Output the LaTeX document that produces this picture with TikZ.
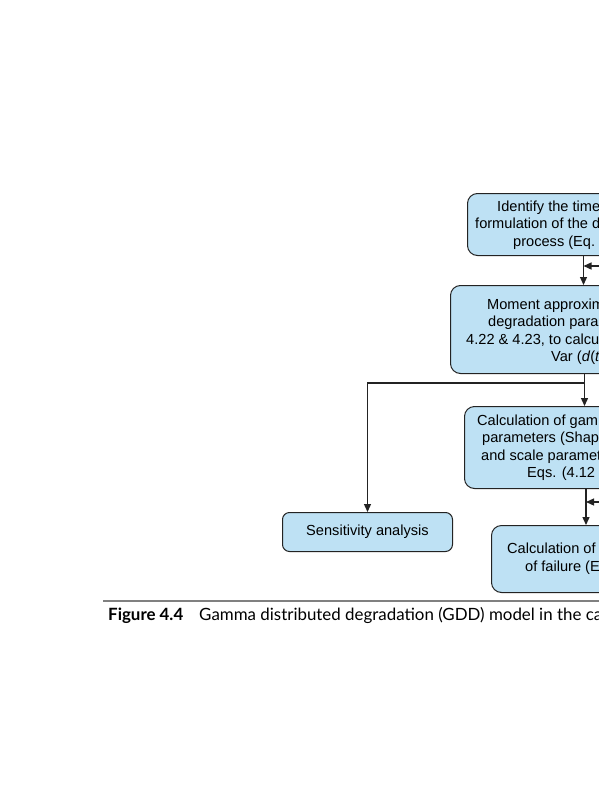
\documentclass[tikz,border=0pt]{standalone}
\usepackage{fontspec}
\setmainfont{Liberation Sans}
\newfontfamily\capfont{Lato}
\usetikzlibrary{arrows.meta}
\definecolor{boxfill}{RGB}{190,225,244}
\definecolor{edgecol}{RGB}{35,35,35}
\definecolor{rulegray}{RGB}{128,128,128}
\begin{document}
\begin{tikzpicture}[x=1pt,y=-1pt,
 box/.style={draw=edgecol, line width=1pt, fill=boxfill, rounded corners=10pt, anchor=north west, inner sep=0},
 txt/.style={anchor=base west, inner sep=0, font=\fontsize{14.6}{17.5}\selectfont, text=black},
 conn/.style={draw=edgecol, line width=1.3pt},
 arr/.style={conn, -{Triangle[length=8pt,width=7pt]}},
 captxt/.style={anchor=base west, inner sep=0, font=\capfont\fontsize{16.9}{20}\selectfont, text=black},
]
\useasboundingbox (0,0) rectangle (599,800);
\clip (0,0) rectangle (599,800);
\fill[white] (0,0) rectangle (599,800);

% boxes
\node[box, minimum width=240, minimum height=62] (box1) at (467,193) {};
\node[box, minimum width=270, minimum height=88] (box2) at (450,285) {};
\node[box, minimum width=245, minimum height=82] (box3) at (464,406) {};
\node[box, minimum width=200, minimum height=67] (box5) at (491,525) {};
\node[box, rounded corners=7pt, minimum width=170, minimum height=39,
      font=\fontsize{14.6}{17.5}\selectfont] (sens) at (282,512) {Sensitivity analysis};

% box texts
\node[txt] (b1a) at (497,211) {Identify the time};
\node[txt] (b1b) at (475,228) {formulation of the degradation};
\node[txt] (b1c) at (513,246) {process (Eq.};

\node[txt] (b2a) at (487,309) {Moment approximation};
\node[txt] (b2b) at (488,326.7) {degradation parameters};
\node[txt] (b2c) at (466,344) {4.22 \& 4.23, to calculate};
\node[txt] (b2d) at (551,361.7) {Var (\textit{d}(\textit{t}))};

\node[txt] (b3a) at (477,425) {Calculation of gamma};
\node[txt] (b3b) at (482,442.7) {parameters (Shape};
\node[txt] (b3c) at (481,460) {and scale parameters};
\node[txt] (b3d) at (527,477.7) {Eqs. (4.12 \&};

\node[txt] (b5a) at (507,553.3) {Calculation of probability};
\node[txt] (b5b) at (525,571.7) {of failure (Eq.};

% connectors
\coordinate (x1) at (583.5,0);
\coordinate (x2) at (584.5,0);
\coordinate (x3) at (586,0);
\coordinate (fb1) at (630,266);
\coordinate (fb1e) at (583.5,266);
\coordinate (fb2) at (630,502);
\coordinate (fb2e) at (586,502);
\coordinate (j1) at (584.5,383);

\draw[arr] (box1.south -| x1) -- (box2.north -| x1);
\draw[arr] (fb1) -- (fb1e);
\draw[arr] (box2.south -| x2) -- (box3.north -| x2);
\draw[arr] (j1) -| (sens.north);
\draw[arr] (box3.south -| x3) -- (box5.north -| x3);
\draw[arr] (fb2) -- (fb2e);

% caption
\coordinate (r0) at (103,601);
\coordinate (r1) at (630,601);
\draw[rulegray, line width=2.5pt] (r0) -- (r1);
\node[captxt] (capa) at (108,620) {\textbf{Figure 4.4}};
\node[captxt] (capb) at (199,620) {Gamma distributed degradation (GDD) model in the case};
\end{tikzpicture}
\end{document}
